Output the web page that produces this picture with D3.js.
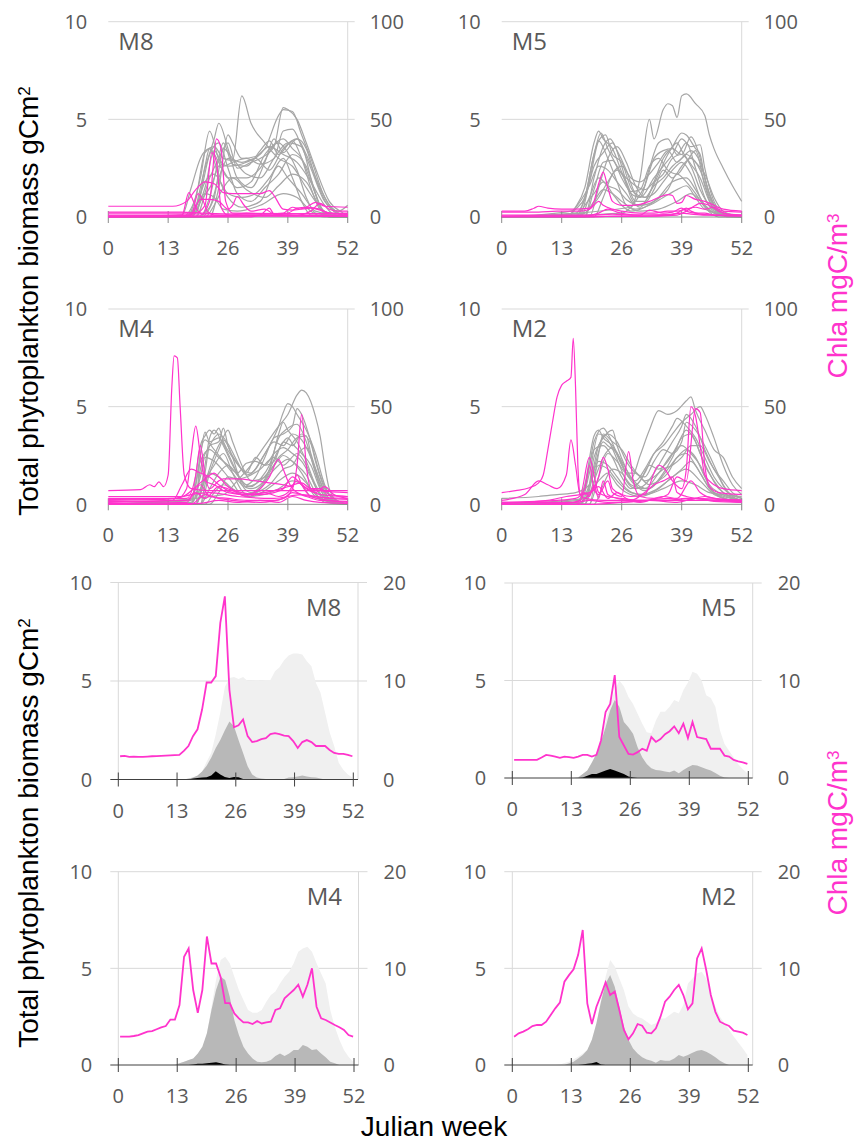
<!DOCTYPE html>
<html>
<head>
<meta charset="utf-8">
<script src="https://cdn.jsdelivr.net/npm/d3@7"></script>
<style>
  body { margin: 0; background: #fff; }
  text { font-family: "Open Sans", sans-serif; }
</style>
</head>
<body>
<script>
// ---- axis ticks ----
const weekTicks = [0, 13, 26, 39, 52];
const biomassTicks = [0, 5, 10];
const chlaTicksTop = [0, 50, 100];
const chlaTicksBottom = [0, 10, 20];
const stations = ["M8", "M5", "M4", "M2"];

// ---- top panels: one line per year, [julian week, value] points ----
const m8Biomass = [
  [[0,0],[16,0],[19,1],[21,3.3],[23,3.6],[25,3.0],[27,2.9],[29,6.2],[31,4.8],[34,3.8],[37,3.0],[40,2.6],[43,1.5],[46,0.5],[49,0],[52,0]],
  [[0,0],[17,0],[20,2],[22,4.4],[24,3.0],[26,2.6],[30,2.8],[34,3.5],[37,5.2],[38,5.5],[40,5.4],[42,4.2],[44,3.0],[47,1.0],[50,0.2],[52,0]],
  [[0,0],[18,0],[21,2.5],[23,4.0],[24,4.8],[26,3.5],[28,2.0],[31,1.5],[34,2.8],[36,4.0],[38,3.3],[41,4.0],[43,3.5],[45,2.0],[48,0.5],[52,0]],
  [[0,0],[19,0],[22,2.0],[24,3.0],[26,3.8],[28,2.5],[31,2.8],[33,3.0],[36,3.6],[38,5.6],[39,5.5],[41,5.0],[43,3.8],[45,2.5],[48,0.8],[51,0.2],[52,0]],
  [[0,0],[16,0.1],[18,1.5],[20,3.0],[22,3.5],[24,2.8],[26,2.0],[30,2.0],[33,2.5],[36,3.7],[38,4.0],[40,3.5],[42,3.0],[44,1.8],[46,0.6],[48,0],[52,0]],
  [[0,0],[19,0],[22,0.5],[24,2.0],[26,3.0],[29,2.8],[32,3.0],[35,2.4],[38,3.5],[41,4.0],[43,3.2],[46,1.5],[49,0.3],[52,0]],
  [[0,0],[20,0],[23,1.0],[25,3.5],[27,3.0],[30,2.2],[33,2.0],[36,3.0],[39,3.8],[42,3.6],[44,2.0],[46,0.5],[48,0],[52,0]],
  [[0,0],[17,0],[20,1.2],[22,3.2],[24,3.8],[26,2.5],[28,1.2],[31,0.8],[34,1.5],[37,2.2],[40,3.2],[43,2.6],[45,1.2],[47,0.2],[52,0]],
  [[0,0],[18,0],[21,1.5],[23,3.4],[25,2.6],[27,2.8],[30,3.0],[33,2.7],[36,3.0],[38,4.4],[40,4.5],[42,3.6],[44,2.5],[47,0.8],[50,0.3],[52,0.6]],
  [[0,0],[20,0],[22,1.0],[24,2.6],[26,2.0],[28,1.5],[31,1.8],[34,3.2],[37,3.8],[39,3.3],[41,2.4],[43,1.0],[45,0.2],[52,0]],
  [[0,0],[16,0],[19,0.5],[21,1.8],[23,2.2],[26,1.2],[29,1.0],[32,1.2],[35,2.0],[38,3.0],[40,2.0],[42,0.8],[44,0.1],[52,0]],
  [[0,0],[18,0],[20,0.8],[23,2.0],[25,3.8],[27,2.7],[30,2.6],[33,3.4],[35,3.9],[37,3.2],[40,3.9],[42,3.0],[44,1.5],[46,0.4],[52,0]],
  [[0,0],[21,0],[23,0.6],[25,1.5],[27,2.0],[30,1.4],[34,1.0],[37,1.6],[40,2.2],[43,1.8],[46,0.5],[49,0],[52,0]],
  [[0,0],[17,0],[19,0.6],[21,1.2],[23,1.0],[25,0.4],[28,0.3],[33,0.6],[38,1.2],[41,1.0],[44,0.3],[47,0],[52,0]],
  [[0,0],[22,0],[24,1.5],[26,4.2],[27,3.8],[29,3.0],[32,3.1],[35,3.6],[38,3.2],[41,2.8],[44,1.8],[47,0.6],[50,0],[52,0]],
  [[0,0],[19,0],[21,2.6],[22,3.5],[24,2.0],[26,1.0],[29,0.5],[33,0.8],[37,2.6],[39,2.0],[42,1.2],[45,0.3],[52,0]]
];
const m8ChlaYears = [
  [[0,5.5],[14,5.5],[17,8],[19,14],[21,18],[23,17],[25,12.5],[27,12],[30,12],[33,12],[35,13.5],[36,11],[38,4],[40,3.5],[43,5],[45,7.5],[47,5.5],[52,5]],
  [[0,1],[20,1],[22,8],[23.5,40],[24.5,35],[25.5,8],[27,2],[52,1.5]],
  [[0,2],[19,2],[21,6],[22.5,33],[23.5,28],[24.5,5],[26,1],[52,0.5]],
  [[0,0.5],[16,1],[17.5,12.5],[18.5,8],[19.5,3],[21,1],[52,0.5]],
  [[0,0.3],[18,1],[19.5,12],[20.5,9],[21.5,3],[23,1],[52,0.3]],
  [[0,0.5],[18,1],[20,9],[22,9],[24,8],[26,4],[27,6],[28,10.5],[29.5,6],[31,3],[34,4],[36,1.5],[40,1],[52,0.5]],
  [[0,0],[30,0],[33,1],[35,4.5],[36,1.5],[39,2],[41,4.5],[43,5],[46,4],[48,2],[52,1.5]],
  [[0,0],[25,0.3],[30,2],[34,1.5],[38,2],[40,5],[42,4],[44,4.5],[46,3.5],[48,2],[52,1.5]],
  [[0,0.2],[40,0.5],[44,3],[46,7],[48,4],[50,3],[52,3]],
  [[0,2.5],[16,2.5],[20,2],[30,1.5],[52,2]]
];

const m5Biomass = [
  [[0,0],[28,0.5],[30,2],[32,5.0],[33,4.0],[35,5.5],[36,5.8],[37,5.7],[38,5.1],[39,6.2],[40,6.3],[42,5.8],[44,5.2],[45,4.2],[46,3.5],[48,2.5],[50,1.6],[52,0.8]],
  [[0,0],[14,0],[16,0.5],[18,1.5],[20,3.8],[21,4.4],[22,4.0],[24,3.5],[26,2.3],[28,1.2],[30,1.0],[32,2.5],[34,3.8],[36,4.0],[38,3.2],[40,3.8],[42,2.5],[44,1.0],[46,0.3],[52,0]],
  [[0,0],[16,0],[18,1],[20,3.2],[21.5,4.3],[23,3.5],[25,2.6],[27,1.8],[29,0.8],[31,0.8],[33,1.8],[35,3.0],[37,3.6],[39,4.3],[40,4.2],[42,3.5],[43,3.2],[44,2.0],[46,0.6],[48,0.1],[52,0]],
  [[0,0],[17,0.1],[19,1.8],[21,3.9],[22.5,4.2],[24,3.2],[26,2.8],[28,1.5],[30,1.0],[33,2.0],[35,2.6],[37,3.2],[39,4.0],[41,3.6],[43,3.7],[44,2.5],[46,0.8],[49,0],[52,0]],
  [[0,0],[18,0],[20,2.0],[22,3.6],[23.5,4.0],[25,3.4],[27,2.4],[29,1.2],[31,1.0],[33,1.6],[35,2.0],[37,2.6],[39,3.0],[41,3.4],[43,2.8],[45,1.2],[47,0.3],[52,0]],
  [[0,0],[16,0.2],[18,0.9],[20,2.6],[22,3.3],[24,3.8],[26,2.6],[28,1.0],[30,0.5],[32,1.2],[34,2.2],[36,3.2],[38,3.8],[39,3.4],[41,2.7],[43,2.0],[45,0.8],[48,0.1],[52,0]],
  [[0,0],[19,0],[21,1.5],[23,3.0],[25,3.6],[27,2.8],[29,1.6],[31,1.0],[33,1.2],[35,1.8],[37,2.4],[39,2.8],[41,2.2],[43,1.0],[45,0.3],[52,0]],
  [[0,0],[15,0.3],[17,0.8],[19,1.6],[21,2.6],[23,2.4],[25,1.8],[27,1.2],[29,0.6],[31,0.7],[33,1.4],[35,2.4],[37,2.0],[39,2.6],[41,3.0],[43,2.4],[45,1.0],[47,0.2],[52,0]],
  [[0,0],[17,0],[19,1.0],[21,2.0],[23,1.6],[25,1.4],[27,0.9],[30,0.6],[33,0.8],[36,1.4],[38,2.2],[40,1.8],[42,1.2],[44,0.5],[47,0],[52,0]],
  [[0,0],[18,0],[20,1.4],[22,2.8],[24,2.9],[26,2.0],[28,1.3],[30,1.4],[32,2.6],[34,3.0],[36,2.4],[38,2.2],[40,2.8],[42,3.4],[44,1.6],[46,0.4],[52,0]],
  [[0,0],[16,0],[18,0.6],[20,1.2],[22,1.8],[24,1.2],[26,0.6],[28,0.3],[31,0.5],[34,1.0],[37,1.8],[40,2.0],[42,1.4],[44,0.6],[46,0.2],[52,0]],
  [[0,0],[20,0],[22,1.0],[24,2.2],[26,2.6],[28,2.0],[30,1.8],[32,2.2],[34,2.8],[36,3.4],[38,2.8],[40,3.2],[42,2.8],[44,2.2],[46,1.0],[48,0.3],[52,0]],
  [[0,0],[14,0],[16,0.4],[18,1.0],[20,3.2],[21,3.9],[23,3.0],[25,1.8],[27,0.6],[30,0.3],[34,0.4],[38,0.8],[41,1.2],[44,0.6],[47,0.1],[52,0]],
  [[0,0],[17,0.1],[19,0.4],[21,1.0],[23,1.8],[25,2.4],[27,2.0],[29,1.6],[31,1.4],[33,1.8],[35,2.2],[37,3.0],[39,3.2],[41,2.6],[43,1.4],[45,0.6],[48,0.2],[52,0.1]],
  [[0,0],[26,0.2],[29,0.8],[31,1.6],[33,3.0],[35,3.4],[37,3.5],[39,3.2],[41,4.1],[43,3.0],[44,2.0],[46,0.6],[49,0.1],[52,0]],
  [[0,0],[18,0.2],[20,0.8],[22,1.4],[24,1.2],[26,0.8],[29,0.4],[32,0.6],[35,1.0],[38,1.4],[40,1.6],[42,1.0],[44,0.4],[52,0]]
];
const m5ChlaYears = [
  [[0,3],[5,3],[7,4.5],[8,5.5],[10,4.5],[13,4],[16,4],[19,4.5],[20,8],[21,17],[22,23],[23,15],[24,8],[26,6],[28,6],[30,6.5],[32,8],[34,10],[36,11.5],[37,11],[38,7],[39,7.5],[40,11],[42,9],[44,8],[46,6],[48,4],[52,3]],
  [[0,2.5],[8,2.5],[12,3],[17,3],[19,4],[20,6],[21,8],[22,6],[24,4],[26,3],[30,2],[33,2],[36,3],[38,3],[40,4],[42,5],[44,4],[46,5],[48,3],[52,2.5]],
  [[0,0.5],[18,0.5],[21,2],[23,4],[25,2.5],[27,1.5],[30,1],[32,3.5],[33,3],[35,2],[37,2.5],[39,4.5],[40,3],[42,2],[44,2],[46,1],[52,0.5]],
  [[0,0],[20,0],[25,0.5],[30,0.5],[36,1],[38,2],[40,4.5],[41,3],[43,1.5],[46,1],[52,0.5]],
  [[0,1],[20,1],[24,1.5],[28,1],[36,1.2],[39,2],[41,1.5],[44,1],[52,1]],
  [[0,0.3],[30,0.3],[38,1],[40,3],[42,6],[43,7],[45,6],[47,3],[49,1.5],[52,1]]
];

const m4Biomass = [
  [[0,0],[25,0.5],[28,1.2],[31,2.0],[34,3.0],[37,4.0],[39,4.6],[41,5.6],[42,5.85],[43,5.7],[45,4.5],[46,3.5],[47,2.0],[48,0.8],[50,0.1],[52,0]],
  [[0,0],[18,0],[19,1.5],[20,3.0],[21,3.5],[22,3.8],[23,3.6],[24,3.9],[25,3.2],[27,2.4],[29,1.8],[31,1.6],[33,2.2],[35,3.0],[37,4.0],[38,4.7],[39,5.15],[40,5.0],[41,4.6],[43,3.8],[45,2.6],[47,1.0],[49,0.2],[52,0]],
  [[0,0],[18,0.2],[20,2.5],[21,3.7],[22,3.2],[24,3.4],[26,2.6],[28,1.6],[30,1.0],[32,1.4],[34,2.4],[36,3.4],[38,3.6],[40,4.0],[41,4.9],[42,4.6],[44,3.2],[46,1.5],[48,0.5],[52,0]],
  [[0,0],[19,0],[21,2.0],[22,3.4],[23,3.8],[25,3.0],[27,2.0],[29,1.2],[31,0.9],[33,1.3],[35,2.0],[37,3.4],[39,3.9],[41,4.1],[43,3.2],[45,1.6],[47,0.4],[52,0]],
  [[0,0],[19,0.3],[20,1.8],[22,3.0],[24,3.6],[26,3.1],[28,2.2],[30,1.5],[32,1.8],[34,2.6],[36,3.2],[38,3.0],[40,3.6],[42,3.3],[44,2.4],[46,1.0],[48,0.2],[52,0]],
  [[0,0],[20,0],[21,1.0],[23,2.5],[25,3.3],[27,2.4],[29,1.0],[31,0.6],[33,0.9],[35,1.6],[37,2.4],[39,2.8],[41,3.4],[43,3.5],[44,2.6],[46,1.2],[48,0.3],[52,0]],
  [[0,0],[18,0],[20,2.2],[22,2.8],[24,2.4],[26,2.0],[28,1.6],[30,2.1],[32,2.2],[34,2.0],[36,2.6],[38,2.9],[40,2.6],[42,2.2],[44,1.4],[46,0.5],[52,0]],
  [[0,0],[19,0],[21,1.2],[23,2.0],[25,2.6],[27,1.6],[29,0.7],[31,0.4],[33,0.8],[35,1.5],[37,2.0],[39,2.3],[41,2.0],[43,1.5],[45,0.6],[47,0.1],[52,0]],
  [[0,0],[20,0],[22,1.6],[24,2.8],[26,3.8],[27,3.2],[29,2.0],[31,1.2],[34,1.4],[37,2.8],[39,3.4],[40,3.1],[42,2.6],[44,2.0],[46,0.8],[48,0.1],[52,0]],
  [[0,0],[18,0.1],[20,0.8],[22,1.6],[24,1.4],[26,1.0],[28,0.6],[31,0.4],[34,0.7],[37,1.2],[40,1.6],[43,1.1],[45,0.4],[52,0]],
  [[0,0],[20,0],[22,0.8],[24,1.6],[26,2.0],[28,1.5],[30,0.9],[33,1.2],[36,2.0],[38,2.5],[40,2.2],[42,1.6],[44,0.8],[46,0.3],[52,0]],
  [[0,0],[19,0],[20,2.6],[21,3.3],[23,2.8],[25,2.2],[27,1.6],[29,1.0],[31,0.8],[33,1.0],[35,1.8],[37,3.6],[38,4.2],[39,3.8],[41,3.2],[43,2.2],[45,1.0],[47,0.3],[52,0]],
  [[0,0],[21,0],[23,0.6],[25,1.0],[27,0.8],[30,0.4],[34,0.5],[37,0.8],[40,1.2],[42,1.0],[44,0.4],[52,0]],
  [[0,0],[18,0],[20,1.4],[21,2.4],[23,2.2],[25,1.7],[27,1.1],[29,0.5],[32,0.6],[35,1.0],[38,1.8],[40,2.0],[42,2.8],[43,2.9],[45,1.8],[47,0.6],[49,0.1],[52,0]],
  [[0,0],[19,0],[21,1.6],[22,3.0],[24,3.2],[25,3.9],[26,3.0],[28,2.1],[30,1.6],[32,2.4],[34,2.0],[36,2.2],[38,3.2],[40,3.0],[42,3.6],[44,3.1],[45,2.2],[47,0.8],[49,0.3],[52,0]],
  [[0,0],[22,0],[24,0.6],[26,1.4],[28,1.3],[30,1.4],[33,1.8],[36,2.4],[38,2.0],[41,2.6],[43,2.0],[45,0.9],[47,0.2],[52,0]]
];
const m4ChlaYears = [
  [[0,7],[7,7.5],[9,10],[10,9],[11,11.5],[12,9],[13,15],[13.8,60],[14.3,76],[15,75],[15.6,50],[16.5,15],[18,8],[22,7],[30,7],[40,7],[52,7]],
  [[0,3],[15,3],[17,8],[18,25],[19,40],[20,25],[21,12],[23,10],[26,6],[30,5],[36,7],[39,9],[42,11],[44,8],[46,8],[48,5],[52,4]],
  [[0,2],[17,3],[19,15],[20,30],[21,15],[22,8],[24,12],[25,13],[28,13],[32,12],[35,11],[38,10],[40,9],[41,20],[42,46],[43,20],[44,8],[46,7],[52,6]],
  [[0,1],[14,2],[16,10],[18,18],[20,16],[22,14],[24,10],[27,6],[30,5],[33,8],[35,14],[37,23],[38,18],[39,12],[41,6],[44,4],[52,3]],
  [[0,4],[16,4],[19,9],[21,13],[23,16],[24,14],[26,9],[29,6],[33,5],[36,6],[38,8],[40,14],[42,10],[44,7],[46,5],[52,4]],
  [[0,0.5],[17,1],[19,6],[21,3],[24,9],[27,7],[30,4],[34,6],[37,4],[39,6],[41,12],[43,8],[45,6],[47,9],[49,5],[52,3]],
  [[0,1.5],[17,2],[20,10],[22,4],[26,3],[30,2],[36,2],[38,3],[40,6],[43,4],[46,2],[52,1.5]],
  [[0,0],[18,0],[21,5],[24,3],[27,2],[33,1],[38,3],[40,8],[41,15],[42,10],[44,4],[48,2],[52,1]],
  [[0,0],[20,0.5],[24,2],[28,1],[33,2],[37,1],[40,4],[43,2],[46,1],[52,0.5]],
  [[0,2.5],[14,3],[18,5],[22,6],[28,4],[36,3],[42,5],[48,3],[52,2.5]]
];

const m2Biomass = [
  [[0,0],[16,0],[18,1.0],[20,3.5],[21,3.8],[22,3.4],[24,3.0],[26,2.0],[28,1.3],[30,2.5],[32,3.8],[34,4.8],[36,4.6],[38,4.8],[40,5.3],[41,5.5],[42,4.8],[44,3.8],[46,2.8],[48,2.4],[50,1.4],[52,0.8]],
  [[0,0],[17,0.2],[19,2.0],[20,3.2],[22,3.9],[23,3.6],[25,2.6],[27,1.6],[29,1.2],[31,1.8],[33,2.6],[35,3.0],[37,3.6],[39,4.2],[41,4.6],[43,5.0],[44,4.6],[46,3.4],[48,2.0],[50,1.0],[52,0.5]],
  [[0,0],[17,0],[19,1.6],[21,3.6],[23,3.3],[25,2.3],[27,1.2],[29,0.8],[31,1.0],[33,1.6],[35,2.4],[37,3.2],[39,4.0],[40,4.6],[42,4.0],[44,2.8],[46,1.8],[48,1.2],[50,0.6],[52,0.3]],
  [[0,0],[18,0],[20,2.4],[22,3.4],[24,3.8],[25,3.0],[27,1.8],[29,1.0],[31,0.7],[33,1.0],[35,1.6],[37,2.4],[39,3.4],[41,3.6],[43,2.6],[45,1.6],[47,0.8],[52,0.2]],
  [[0,0],[16,0.1],[18,0.8],[20,2.8],[22,3.0],[24,2.4],[26,1.4],[28,0.8],[30,1.2],[32,2.0],[34,1.8],[36,2.2],[38,3.0],[40,3.8],[42,3.2],[44,2.0],[46,1.2],[48,0.6],[52,0.2]],
  [[0,0],[18,0],[20,1.2],[22,2.4],[24,2.9],[26,2.2],[28,1.4],[30,0.9],[32,0.8],[34,1.2],[36,1.8],[38,2.4],[40,2.8],[42,2.4],[44,1.4],[46,0.6],[52,0.1]],
  [[0,0],[17,0],[19,1.0],[21,2.2],[23,2.0],[25,1.4],[27,0.8],[30,0.5],[33,0.7],[36,1.2],[39,1.8],[41,2.2],[43,1.6],[45,0.8],[48,0.3],[52,0.1]],
  [[0,0],[18,0.3],[20,2.0],[21,3.0],[23,3.6],[25,3.2],[27,2.2],[29,1.6],[31,1.4],[33,2.2],[35,2.8],[37,2.6],[39,3.2],[40,4.2],[42,3.8],[44,3.0],[46,2.0],[48,1.0],[50,0.4],[52,0.2]],
  [[0,0],[19,0],[21,1.4],[23,2.6],[25,2.2],[27,1.6],[29,1.6],[31,1.2],[33,1.4],[35,1.8],[37,2.0],[39,2.4],[41,3.0],[43,3.0],[45,2.2],[47,1.4],[49,0.6],[52,0.3]],
  [[0,0],[17,0],[19,0.6],[21,1.2],[23,1.6],[25,1.0],[27,0.6],[30,0.4],[34,0.8],[37,1.4],[40,1.8],[43,1.2],[46,0.5],[52,0.1]],
  [[0,0],[18,0],[20,1.8],[22,3.2],[23,3.0],[25,2.6],[27,1.6],[29,1.0],[31,1.6],[33,2.6],[35,3.2],[37,4.0],[38,4.4],[40,4.0],[42,3.4],[44,2.4],[46,1.4],[48,0.8],[52,0.3]],
  [[0,0.3],[8,0.4],[12,0.5],[16,0.6],[19,1.0],[21,2.0],[23,1.8],[25,1.2],[28,0.6],[31,0.5],[35,0.8],[39,1.2],[42,1.0],[45,0.6],[48,0.5],[52,0.4]],
  [[0,0],[19,0],[21,2.6],[22,3.6],[24,3.2],[26,2.8],[28,2.0],[30,1.4],[32,1.0],[34,1.2],[36,1.6],[38,2.4],[40,2.6],[42,2.0],[44,1.2],[46,0.6],[52,0.2]],
  [[0,0],[20,0],[22,1.0],[24,1.8],[26,1.6],[28,1.0],[31,0.8],[34,1.6],[37,2.6],[39,3.0],[41,2.6],[43,2.0],[45,1.0],[47,0.6],[52,0.2]]
];
const m2ChlaYears = [
  [[0,6],[3,7],[6,8.5],[8,11],[9,15],[10,28],[11,42],[12,55],[13,61],[14,63],[15,65],[15.5,85],[16,60],[16.5,20],[17,5],[18,3],[22,2],[30,2],[40,2],[52,2]],
  [[0,2],[5,5],[8,12],[10,10],[12,8],[14,15],[15,33],[16,20],[17,5],[19,24],[20,15],[21,6],[23,4],[26,3],[30,2],[36,2],[40,3],[52,2]],
  [[0,0.5],[10,2],[14,4],[17,5],[19,6],[21,14],[22,24],[23,18],[24,8],[26,5],[28,4],[31,5],[34,20],[35,19],[37,12],[39,8],[40,18],[41,50],[42,45],[43,30],[44,15],[46,10],[48,8],[52,7]],
  [[0,1],[12,2],[16,3],[18,8],[19,20],[20,8],[21,5],[23,12],[24,6],[26,4],[27.5,27],[28.5,12],[30,4],[33,3],[36,5],[38,14],[40,12],[42,49],[43,47],[44,20],[45,9],[47,6],[52,5]],
  [[0,0],[14,0.5],[17,2],[18,6],[19,4],[20,10],[21,3],[22,12],[23,5],[25,3],[28,2],[31,6],[33,10],[35,12],[37,14],[38,6],[40,4],[42,3],[46,2],[52,1.5]],
  [[0,0],[16,0],[19,5],[21,9],[23,3],[25,6],[27,3],[30,1],[35,4],[38,3],[41,12],[43,6],[46,3],[52,2]],
  [[0,1],[16,1],[19,2],[23,1],[30,1.5],[36,3],[40,2],[44,4],[48,2],[52,1]],
  [[0,0],[20,0],[26,1],[32,2],[38,1],[42,3],[46,1.5],[52,1]]
];

// ---- bottom panels: weekly values (52 weeks) ----
const m8Light = [0,0,0,0,0,0,0,0,0,0, 0,0,0,0,0,0,0,0.05,0.4,0.9, 1.35,2.3,3.4,4.7,5.15,5.2,5.1,5.2,5.0,5.0, 5.05,5.0,5.05,5.05,5.5,5.7,6.05,6.3,6.4,6.4, 6.35,6.0,5.75,4.9,4.4,3.4,2.4,1.7,0.85,0.5, 0.25,0.1];
const m8Dark = [0,0,0,0,0,0,0,0,0,0, 0,0,0,0,0,0.05,0.1,0.2,0.4,0.7, 1.1,1.6,2.0,2.5,2.95,2.7,2.0,1.35,0.67,0.25, 0.1,0.05,0.03,0.03,0.03,0.03,0.03,0.1,0.12,0.15, 0.2,0.15,0.12,0.1,0.05,0,0,0,0,0, 0,0];
const m8Black = [0,0,0,0,0,0,0,0,0,0, 0,0,0,0,0,0,0.05,0.08,0.1,0.12, 0.2,0.42,0.25,0.13,0.08,0.13,0.12,0.03,0,0, 0,0,0,0,0,0,0,0,0,0, 0,0,0,0,0,0,0,0,0,0, 0,0];
const m8Chla = [2.36,2.4,2.3,2.33,2.3,2.3,2.33,2.36,2.38,2.4, 2.42,2.45,2.48,2.5,2.9,3.4,4.4,5.1,7.1,9.85, 9.85,10.5,15.9,18.6,9.1,5.3,5.5,6.1,4.4,3.8, 3.9,4.1,4.2,4.6,4.7,4.6,4.45,4.4,3.9,3.2, 3.8,4.0,3.8,3.4,3.4,3.4,3.0,2.7,2.6,2.6, 2.5,2.36];

const m5Light = [0,0,0,0,0,0,0,0,0,0, 0,0,0,0,0.05,0.2,0.38,0.8,1.24,1.9, 2.9,3.8,4.5,5.0,4.7,4.15,3.8,3.3,2.8,2.35, 2.3,2.95,3.4,3.4,3.65,4.0,3.9,4.5,4.9,5.45, 5.35,5.0,4.25,4.1,3.65,2.45,1.75,1.4,1.05,0.7, 0.45,0.25];
const m5Dark = [0,0,0,0,0,0,0,0,0,0, 0,0,0,0,0.03,0.2,0.38,0.8,1.24,1.84, 2.6,3.47,4.0,3.65,2.87,2.6,2.27,1.58,1.07,0.72, 0.5,0.41,0.38,0.33,0.3,0.38,0.24,0.41,0.55,0.67, 0.64,0.55,0.46,0.38,0.26,0.12,0.03,0,0,0, 0,0];
const m5Black = [0,0,0,0,0,0,0,0,0,0, 0,0,0,0,0,0.03,0.12,0.2,0.2,0.3, 0.38,0.46,0.38,0.3,0.2,0.08,0.02,0,0,0, 0,0,0,0,0,0,0,0,0,0, 0,0,0,0,0,0,0,0,0,0, 0,0];
const m5Chla = [1.86,1.86,1.86,1.86,1.86,1.86,2.1,2.37,2.3,2.2, 2.06,2.2,2.13,2.06,2.2,2.37,2.37,2.2,2.37,3.85, 6.77,7.6,10.55,4.2,3.33,2.47,2.4,2.65,3.0,2.8, 4.2,3.7,4.0,4.5,4.8,5.3,4.6,5.57,4.1,5.74, 4.2,4.1,4.0,3.0,3.0,3.0,2.3,2.2,1.86,1.7, 1.6,1.44];

const m4Light = [0,0,0,0,0,0,0,0,0,0, 0,0,0.03,0.1,0.17,0.25,0.34,0.5,0.78,1.64, 3.0,4.4,5.43,5.6,5.26,4.57,3.88,3.36,2.84,2.7, 2.7,2.84,3.27,3.62,3.8,4.22,4.57,4.83,5.26,5.86, 6.03,6.12,5.86,5.26,4.74,4.22,2.84,1.98,1.3,0.78, 0.43,0.17];
const m4Dark = [0,0,0,0,0,0,0,0,0,0, 0,0,0,0.09,0.17,0.26,0.34,0.6,0.95,1.64, 2.84,3.88,4.57,4.4,3.53,2.33,1.55,0.95,0.6,0.34, 0.17,0.14,0.17,0.26,0.47,0.6,0.47,0.6,0.78,0.78, 1.03,0.95,0.78,0.81,0.6,0.4,0.17,0.09,0,0, 0,0];
const m4Black = [0,0,0,0,0,0,0,0,0,0, 0,0,0,0,0,0,0.03,0.07,0.07,0.09, 0.12,0.14,0.09,0.02,0,0,0,0,0,0, 0,0,0,0,0,0,0,0,0,0, 0,0,0,0,0,0,0,0,0,0, 0,0];
const m4Chla = [2.93,2.93,2.93,3.0,3.1,3.28,3.45,3.5,3.7,3.9, 4.03,4.7,4.7,6.2,11.2,12.07,7.76,5.4,7.76,13.3, 10.5,10.5,9.1,6.4,6.4,5.34,4.83,4.4,4.4,4.24, 4.55,4.3,4.4,4.48,5.7,5.86,6.9,7.34,7.76,8.3, 7.07,8.3,10.0,6.03,4.83,4.66,4.4,4.14,3.9,3.62, 3.1,2.93];

const m2Light = [0,0,0,0,0,0,0,0,0,0, 0.03,0.1,0.17,0.3,0.43,0.6,0.78,1.3,2.16,3.36, 4.57,5.43,5.1,4.48,3.88,3.02,2.67,2.5,2.41,2.24, 2.07,2.16,2.41,2.41,2.59,2.76,2.67,3.1,4.22,4.48, 4.74,4.83,4.48,3.7,3.02,2.5,2.16,1.81,1.47,1.16, 0.86,0.52];
const m2Dark = [0,0,0,0,0,0,0,0,0,0, 0,0,0.09,0.17,0.34,0.52,0.78,1.3,2.16,3.28, 4.22,4.66,4.05,3.02,1.98,1.3,0.86,0.6,0.4,0.29, 0.22,0.12,0.26,0.22,0.22,0.34,0.52,0.43,0.52,0.64, 0.74,0.78,0.69,0.55,0.4,0.22,0.09,0,0,0, 0,0];
const m2Black = [0,0,0,0,0,0,0,0,0,0, 0,0,0,0,0,0.03,0.07,0.09,0.16,0.03, 0,0,0,0,0,0,0,0,0,0, 0,0,0,0,0,0,0,0,0,0, 0,0,0,0,0,0,0,0,0,0, 0,0];
const m2Chla = [2.93,3.28,3.45,3.7,4.03,4.14,4.14,4.48,5.17,5.86, 6.45,8.62,9.3,9.9,11.4,13.97,6.38,4.24,6.03,7.24, 8.55,7.24,7.59,5.7,3.62,2.66,3.28,4.24,4.07,3.34, 3.28,3.8,5.0,6.55,7.07,7.76,8.28,7.24,5.76,6.38, 11.03,12.07,9.83,7.24,5.5,4.48,4.24,4.03,3.55,3.45, 3.34,3.1];

// ---- colours ----
const magenta = "#ff33cc";
const labelGrey = "#595959";
const gridGrey = "#d9d9d9";

const svg = d3.select("body").append("svg")
    .attr("width", 856)
    .attr("height", 1144);

// panel frames (pixel boxes)
const topBoxes = [
  { x0: 108.3, x1: 347.7, y0: 217, y1: 21.7 },
  { x0: 501.7, x1: 741.7, y0: 217, y1: 21.7 },
  { x0: 108.3, x1: 347.7, y0: 504.3, y1: 309 },
  { x0: 501.7, x1: 741.7, y0: 504.3, y1: 309 }
];
const bottomBoxes = [
  { x0: 118.3, x1: 353.3, right: 358, y0: 779.5, y1: 582.5 },
  { x0: 512.3, x1: 748.3, right: 752.7, y0: 778, y1: 583 },
  { x0: 118.3, x1: 354, right: 358.5, y0: 1065, y1: 871.7 },
  { x0: 512.3, x1: 748.3, right: 752.7, y0: 1065, y1: 871.7 }
];

const topData = [
  { bio: m8Biomass, chla: m8ChlaYears },
  { bio: m5Biomass, chla: m5ChlaYears },
  { bio: m4Biomass, chla: m4ChlaYears },
  { bio: m2Biomass, chla: m2ChlaYears }
];
const bottomData = [
  { light: m8Light, dark: m8Dark, black: m8Black, chla: m8Chla },
  { light: m5Light, dark: m5Dark, black: m5Black, chla: m5Chla },
  { light: m4Light, dark: m4Dark, black: m4Black, chla: m4Chla },
  { light: m2Light, dark: m2Dark, black: m2Black, chla: m2Chla }
];

function tickLabels(g, x, y, yR, rightTicks, leftGap, rightX) {
  g.selectAll(".yl").data(biomassTicks).join("text")
    .attr("x", x(0) - leftGap)
    .attr("y", d => y(d))
    .attr("dy", "0.36em")
    .attr("text-anchor", "end")
    .style("font-size", "20px")
    .style("fill", labelGrey)
    .text(d => d);
  g.selectAll(".yr").data(rightTicks).join("text")
    .attr("x", rightX)
    .attr("y", d => yR(d))
    .attr("dy", "0.36em")
    .style("font-size", "20px")
    .style("fill", labelGrey)
    .text(d => d);
  g.selectAll(".xl").data(weekTicks).join("text")
    .attr("x", d => x(d))
    .attr("y", y(0) + 38)
    .attr("text-anchor", "middle")
    .style("font-size", "20px")
    .style("fill", labelGrey)
    .text(d => d);
}

// ---- top panels ----
topBoxes.forEach((b, i) => {
  const x = d3.scaleLinear().domain([0, 52]).range([b.x0, b.x1]);
  const y = d3.scaleLinear().domain([0, 10]).range([b.y0, b.y1]);
  const y2 = d3.scaleLinear().domain([0, 100]).range([b.y0, b.y1]);
  const g = svg.append("g");

  g.selectAll(".grid").data([5, 10]).join("line")
    .attr("x1", x(0)).attr("x2", x(52) + 7)
    .attr("y1", d => y(d)).attr("y2", d => y(d))
    .attr("stroke", gridGrey);
  g.append("line")
    .attr("x1", x(52)).attr("x2", x(52))
    .attr("y1", y(10)).attr("y2", y(0) + 6)
    .attr("stroke", gridGrey);

  const bioLine = d3.line().x(d => x(d[0])).y(d => y(d[1])).curve(d3.curveMonotoneX);
  const chlaLine = d3.line().x(d => x(d[0])).y(d => y2(d[1])).curve(d3.curveMonotoneX);

  g.selectAll(".bio").data(topData[i].bio).join("path")
    .attr("d", bioLine)
    .attr("fill", "none")
    .attr("stroke", "#a6a6a6")
    .attr("stroke-width", 1.2);

  // x axis
  g.append("line")
    .attr("x1", x(0)).attr("x2", x(52))
    .attr("y1", y(0)).attr("y2", y(0))
    .attr("stroke", "#8c8c8c");
  g.selectAll(".tick").data(weekTicks).join("line")
    .attr("x1", d => x(d)).attr("x2", d => x(d))
    .attr("y1", y(0) - 6).attr("y2", y(0) + 6)
    .attr("stroke", "#8c8c8c");

  g.selectAll(".chla").data(topData[i].chla).join("path")
    .attr("d", chlaLine)
    .attr("fill", "none")
    .attr("stroke", magenta)
    .attr("stroke-width", 1.2);

  tickLabels(g, x, y, y2, chlaTicksTop, 21, x(52) + 22);

  g.append("text")
    .attr("x", x(0) + 10)
    .attr("y", y(10) + 28)
    .style("font-size", "24px")
    .style("fill", labelGrey)
    .text(stations[i]);
});

// ---- bottom panels ----
bottomBoxes.forEach((b, i) => {
  const x = d3.scaleLinear().domain([0, 52]).range([b.x0, b.x1]);
  const xi = d3.scaleLinear().domain([0, 51]).range([x(0.4), x(51.8)]);
  const y = d3.scaleLinear().domain([0, 10]).range([b.y0, b.y1]);
  const y2 = d3.scaleLinear().domain([0, 20]).range([b.y0, b.y1]);
  const d = bottomData[i];
  const g = svg.append("g");

  g.selectAll(".grid").data([5, 10]).join("line")
    .attr("x1", x(0) - 8).attr("x2", b.right + 9)
    .attr("y1", v => y(v)).attr("y2", v => y(v))
    .attr("stroke", gridGrey);
  g.selectAll(".vline").data([x(0), b.right]).join("line")
    .attr("x1", v => v).attr("x2", v => v)
    .attr("y1", y(10)).attr("y2", y(0))
    .attr("stroke", gridGrey);

  const area = d3.area().x((v, k) => xi(k)).y0(y(0)).y1(v => y(v));
  [[d.light, "#f0f0f0"], [d.dark, "#b8b8b8"], [d.black, "#000"]].forEach(([vals, col]) => {
    g.append("path").datum(vals).attr("d", area).attr("fill", col);
  });

  g.append("line")
    .attr("x1", x(0) - 8).attr("x2", b.right)
    .attr("y1", y(0)).attr("y2", y(0))
    .attr("stroke", "#404040");
  g.selectAll(".tick").data(weekTicks).join("line")
    .attr("x1", v => x(v)).attr("x2", v => x(v))
    .attr("y1", y(0) - 7).attr("y2", y(0) + 7)
    .attr("stroke", "#404040");

  g.append("path").datum(d.chla)
    .attr("d", d3.line().x((v, k) => xi(k)).y(v => y2(v)))
    .attr("fill", "none")
    .attr("stroke", magenta)
    .attr("stroke-width", 1.8);

  tickLabels(g, x, y, y2, chlaTicksBottom, 26, b.right + 25);

  g.append("text")
    .attr("x", x(52) - 12)
    .attr("y", y(10) + 33)
    .attr("text-anchor", "end")
    .style("font-size", "24px")
    .style("fill", labelGrey)
    .text(stations[i]);
});

// ---- axis titles ----
function vTitle(cx, cy, main, sup, colour) {
  const t = svg.append("text")
    .attr("transform", `translate(${cx},${cy}) rotate(-90)`)
    .attr("text-anchor", "middle")
    .style("font-family", "'Liberation Sans', Arial, sans-serif")
    .style("font-size", "28px")
    .style("fill", colour);
  t.append("tspan").text(main);
  t.append("tspan").attr("dy", "-0.45em").style("font-size", "17px").text(sup);
}
vTitle(38, 301, "Total phytoplankton biomass gCm", "2", "#000");
vTitle(38, 833, "Total phytoplankton biomass gCm", "2", "#000");
vTitle(847, 296, "Chla mgC/m", "3", magenta);
vTitle(847, 833, "Chla mgC/m", "3", magenta);

svg.append("text")
    .attr("x", 434)
    .attr("y", 1136)
    .attr("text-anchor", "middle")
    .style("font-family", "'Liberation Sans', Arial, sans-serif")
    .style("font-size", "28px")
    .style("fill", "#000")
    .text("Julian week");
</script>
</body>
</html>
